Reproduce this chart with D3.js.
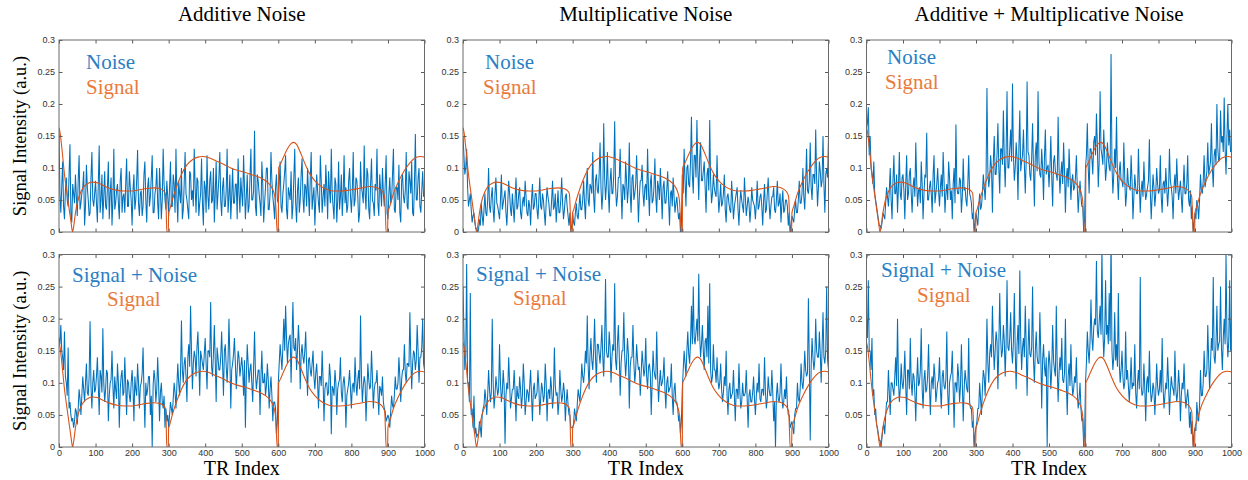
<!DOCTYPE html>
<html>
<head>
<meta charset="utf-8">
<script src="https://cdn.jsdelivr.net/npm/d3@7/dist/d3.min.js"></script>
<style>
  html, body { margin: 0; padding: 0; background: #fff; }
  svg { display: block; }
</style>
</head>
<body>
<script>
// ---- data ----------------------------------------------------------------
// Noisy traces are stored as two sample sets: "A" at TR 0,5,...,1000 and
// "B" half-way between them (TR 2.5, 7.5, ..., 997.5).

// Underlying (noise-free) fingerprint signal
const signalTR = [0,3,8,15,22,28,33,37,40,45,52,60,70,80,92,105,120,140,160,180,200,220,240,260,275,285,291,293,295,299,300,303,310,320,335,350,365,380,392,410,430,450,470,490,510,530,550,565,578,587,592,595,597,600,601,605,615,625,635,642,650,660,672,685,700,715,730,750,770,790,810,830,850,865,877,886,891,893,895,899,900,905,915,930,945,960,975,990,1000];
const signalValues = [0.163,0.155,0.13,0.09,0.06,0.035,0.015,0.0,0.008,0.03,0.05,0.063,0.072,0.076,0.078,0.077,0.073,0.068,0.065,0.064,0.064,0.066,0.068,0.069,0.068,0.065,0.06,0.04,0.0,0.0,0.03,0.035,0.05,0.068,0.09,0.105,0.113,0.117,0.118,0.116,0.111,0.106,0.1,0.096,0.093,0.089,0.085,0.08,0.073,0.063,0.05,0.02,0.0,0.0,0.1,0.105,0.118,0.13,0.138,0.14,0.137,0.125,0.108,0.092,0.08,0.072,0.067,0.064,0.064,0.065,0.067,0.069,0.071,0.07,0.067,0.062,0.055,0.03,0.0,0.0,0.03,0.04,0.06,0.08,0.096,0.108,0.116,0.118,0.117];

// Additive noise only
const additiveNoiseA = [
  0.155,0.03,0.11,0.02,0.085,0.04,0.137,0.015,0.06,0.09,0.025,0.12,0.045,0.07,0.01,0.105,0.05,0.03,0.125,0.04,
  0.08,0.015,0.135,0.05,0.02,0.095,0.035,0.11,0.06,0.01,0.13,0.045,0.075,0.02,0.1,0.055,0.03,0.115,0.04,0.07,
  0.01,0.09,0.05,0.128,0.025,0.065,0.04,0.11,0.015,0.085,0.055,0.12,0.03,0.07,0.045,0.1,0.02,0.13,0.05,0.08,
  0.025,0.11,0.04,0.075,0.13,0.015,0.06,0.1,0.035,0.125,0.05,0.02,0.09,0.065,0.13,0.03,0.08,0.045,0.115,0.01,
  0.07,0.12,0.035,0.095,0.05,0.015,0.11,0.06,0.125,0.025,0.085,0.04,0.13,0.055,0.02,0.1,0.045,0.075,0.115,0.03,
  0.06,0.12,0.02,0.09,0.04,0.13,0.05,0.158,0.025,0.08,0.045,0.11,0.015,0.07,0.1,0.035,0.125,0.055,0.02,0.09,
  0.045,0.11,0.03,0.075,0.12,0.02,0.06,0.095,0.04,0.13,0.015,0.085,0.05,0.115,0.03,0.07,0.1,0.025,0.125,0.055,
  0.01,0.09,0.045,0.12,0.03,0.075,0.105,0.02,0.065,0.13,0.04,0.085,0.015,0.11,0.055,0.025,0.12,0.07,0.04,0.1,
  0.03,0.125,0.05,0.08,0.015,0.11,0.06,0.135,0.035,0.09,0.02,0.115,0.045,0.075,0.13,0.025,0.065,0.1,0.04,0.12,
  0.02,0.085,0.05,0.13,0.03,0.07,0.105,0.015,0.09,0.045,0.125,0.035,0.08,0.11,0.025,0.153,0.05,0.1,0.03,0.095,
  0.06];
const additiveNoiseB = [
  0.06,0.07,0.04,0.065,0.05,0.09,0.03,0.075,0.045,0.055,0.08,0.035,0.06,0.095,0.04,0.07,0.025,0.085,0.05,0.06,
  0.045,0.075,0.03,0.09,0.055,0.04,0.07,0.02,0.085,0.05,0.035,0.065,0.045,0.08,0.03,0.06,0.075,0.04,0.095,0.05,
  0.065,0.035,0.08,0.045,0.06,0.025,0.09,0.05,0.07,0.04,0.085,0.03,0.06,0.1,0.02,0.065,0.05,0.075,0.035,0.055,
  0.07,0.04,0.09,0.03,0.055,0.08,0.045,0.02,0.075,0.06,0.035,0.095,0.05,0.04,0.07,0.085,0.025,0.06,0.045,0.08,
  0.03,0.055,0.08,0.045,0.1,0.06,0.035,0.085,0.05,0.07,0.04,0.065,0.03,0.09,0.055,0.045,0.075,0.02,0.06,0.085,
  0.04,0.07,0.055,0.03,0.085,0.05,0.065,0.04,0.09,0.06,0.025,0.075,0.045,0.1,0.035,0.06,0.08,0.04,0.07,0.05,
  0.075,0.04,0.06,0.095,0.035,0.07,0.05,0.02,0.085,0.045,0.065,0.03,0.09,0.055,0.075,0.04,0.06,0.085,0.035,0.07,
  0.05,0.065,0.03,0.08,0.055,0.04,0.07,0.095,0.045,0.06,0.02,0.075,0.05,0.035,0.09,0.06,0.045,0.03,0.08,0.055,
  0.065,0.04,0.085,0.055,0.03,0.07,0.045,0.06,0.1,0.035,0.075,0.05,0.025,0.065,0.045,0.09,0.04,0.06,0.075,0.03,
  0.06,0.045,0.09,0.035,0.07,0.05,0.03,0.08,0.055,0.065,0.04,0.095,0.06,0.03,0.075,0.05,0.085,0.04,0.065,0.055];

// Multiplicative noise only
const multiplicativeNoiseA = [
  0.15,0.09,0.13,0.04,0.06,0.015,0.03,0.005,0.0,0.02,0.045,0.01,0.06,0.025,0.1,0.03,0.07,0.015,0.085,0.04,
  0.02,0.09,0.045,0.065,0.01,0.08,0.035,0.06,0.015,0.085,0.04,0.07,0.02,0.055,0.08,0.03,0.05,0.01,0.075,0.04,
  0.06,0.02,0.085,0.035,0.05,0.01,0.07,0.045,0.025,0.08,0.04,0.015,0.065,0.03,0.085,0.02,0.055,0.04,0.01,0.0,
  0.03,0.01,0.045,0.02,0.06,0.035,0.08,0.02,0.1,0.04,0.07,0.125,0.03,0.09,0.06,0.14,0.035,0.17,0.05,0.125,
  0.03,0.1,0.06,0.173,0.04,0.085,0.13,0.02,0.07,0.11,0.045,0.14,0.03,0.09,0.06,0.12,0.015,0.08,0.105,0.04,
  0.075,0.13,0.025,0.09,0.05,0.115,0.03,0.07,0.1,0.02,0.08,0.045,0.095,0.01,0.065,0.085,0.03,0.055,0.02,0.0,
  0.09,0.13,0.04,0.105,0.07,0.18,0.06,0.12,0.175,0.05,0.14,0.08,0.11,0.03,0.1,0.175,0.045,0.09,0.06,0.12,
  0.03,0.075,0.045,0.09,0.015,0.06,0.035,0.08,0.02,0.05,0.07,0.01,0.065,0.04,0.085,0.025,0.055,0.015,0.07,0.045,
  0.02,0.08,0.04,0.06,0.01,0.075,0.035,0.085,0.02,0.055,0.07,0.03,0.08,0.045,0.015,0.065,0.035,0.05,0.01,0.0,
  0.025,0.015,0.05,0.03,0.08,0.045,0.1,0.035,0.13,0.06,0.14,0.05,0.09,0.16,0.04,0.11,0.07,0.15,0.03,0.1,
  0.15];
const multiplicativeNoiseB = [
  0.12,0.1,0.07,0.05,0.035,0.025,0.015,0.005,0.003,0.01,0.025,0.035,0.03,0.05,0.04,0.055,0.035,0.06,0.045,0.03,
  0.05,0.035,0.055,0.03,0.045,0.06,0.025,0.04,0.05,0.035,0.06,0.03,0.045,0.04,0.055,0.025,0.04,0.05,0.035,0.06,
  0.035,0.05,0.04,0.06,0.03,0.045,0.055,0.025,0.05,0.035,0.06,0.04,0.03,0.05,0.045,0.035,0.06,0.025,0.03,0.01,
  0.015,0.03,0.025,0.04,0.035,0.05,0.045,0.065,0.05,0.075,0.06,0.055,0.08,0.065,0.09,0.07,0.06,0.085,0.075,0.065,
  0.08,0.06,0.09,0.07,0.055,0.085,0.065,0.075,0.05,0.08,0.07,0.06,0.085,0.05,0.075,0.065,0.055,0.08,0.06,0.07,
  0.05,0.065,0.075,0.045,0.07,0.055,0.08,0.05,0.06,0.07,0.045,0.065,0.05,0.06,0.04,0.055,0.045,0.035,0.03,0.01,
  0.06,0.08,0.1,0.075,0.11,0.09,0.12,0.085,0.1,0.115,0.08,0.095,0.07,0.09,0.065,0.08,0.06,0.07,0.055,0.065,
  0.05,0.04,0.06,0.035,0.055,0.045,0.03,0.05,0.04,0.06,0.035,0.045,0.05,0.03,0.055,0.04,0.045,0.035,0.05,0.04,
  0.045,0.035,0.055,0.04,0.05,0.03,0.06,0.045,0.04,0.055,0.035,0.05,0.04,0.06,0.045,0.03,0.05,0.04,0.03,0.01,
  0.02,0.035,0.03,0.05,0.045,0.06,0.055,0.075,0.065,0.08,0.07,0.09,0.075,0.085,0.07,0.095,0.08,0.075,0.09,0.085];

// Additive + multiplicative noise
const combinedNoiseA = [
  0.16,0.195,0.15,0.09,0.11,0.05,0.03,0.01,0.005,0.03,0.02,0.07,0.04,0.1,0.02,0.12,0.06,0.03,0.125,0.05,
  0.09,0.02,0.12,0.06,0.1,0.03,0.085,0.14,0.04,0.07,0.11,0.02,0.09,0.155,0.05,0.08,0.03,0.12,0.06,0.1,
  0.04,0.09,0.125,0.03,0.075,0.11,0.05,0.02,0.1,0.168,0.06,0.085,0.03,0.115,0.07,0.04,0.12,0.055,0.02,0.0,
  0.03,0.01,0.06,0.04,0.09,0.05,0.225,0.07,0.12,0.03,0.15,0.09,0.17,0.06,0.13,0.19,0.07,0.22,0.1,0.16,
  0.232,0.08,0.14,0.05,0.19,0.11,0.16,0.06,0.235,0.12,0.08,0.17,0.04,0.14,0.22,0.09,0.13,0.05,0.16,0.1,
  0.07,0.15,0.04,0.12,0.09,0.18,0.06,0.11,0.14,0.03,0.1,0.13,0.05,0.09,0.07,0.12,0.03,0.08,0.04,0.0,
  0.1,0.17,0.06,0.13,0.09,0.15,0.185,0.07,0.22,0.12,0.16,0.08,0.14,0.1,0.278,0.06,0.13,0.18,0.05,0.11,
  0.08,0.14,0.04,0.1,0.07,0.12,0.02,0.09,0.06,0.13,0.03,0.08,0.11,0.05,0.07,0.145,0.02,0.09,0.04,0.1,
  0.06,0.12,0.03,0.08,0.1,0.04,0.13,0.07,0.02,0.09,0.115,0.05,0.08,0.03,0.105,0.06,0.12,0.04,0.02,0.0,
  0.03,0.05,0.02,0.09,0.06,0.12,0.08,0.14,0.1,0.17,0.07,0.13,0.2,0.11,0.19,0.15,0.21,0.09,0.2,0.16,
  0.13];
const combinedNoiseB = [
  0.17,0.12,0.1,0.075,0.06,0.04,0.02,0.01,0.015,0.025,0.045,0.055,0.065,0.05,0.08,0.06,0.09,0.07,0.06,0.085,
  0.065,0.075,0.05,0.09,0.06,0.07,0.055,0.08,0.065,0.045,0.075,0.06,0.085,0.05,0.07,0.06,0.09,0.045,0.075,0.065,
  0.07,0.055,0.08,0.06,0.05,0.085,0.065,0.075,0.045,0.07,0.06,0.08,0.055,0.065,0.05,0.075,0.06,0.045,0.03,0.015,
  0.02,0.04,0.035,0.06,0.07,0.08,0.095,0.085,0.1,0.11,0.09,0.12,0.1,0.13,0.105,0.115,0.125,0.1,0.13,0.11,
  0.12,0.1,0.115,0.13,0.095,0.12,0.105,0.11,0.125,0.09,0.115,0.1,0.12,0.095,0.11,0.085,0.1,0.115,0.09,0.105,
  0.1,0.085,0.11,0.095,0.08,0.1,0.09,0.075,0.095,0.085,0.07,0.09,0.08,0.065,0.085,0.07,0.06,0.055,0.04,0.02,
  0.12,0.1,0.13,0.115,0.14,0.12,0.135,0.11,0.13,0.105,0.12,0.1,0.115,0.095,0.105,0.09,0.1,0.085,0.095,0.08,
  0.07,0.085,0.06,0.075,0.065,0.08,0.055,0.07,0.06,0.075,0.065,0.055,0.07,0.06,0.08,0.065,0.055,0.07,0.06,0.075,
  0.065,0.055,0.075,0.06,0.07,0.065,0.08,0.055,0.07,0.06,0.075,0.065,0.055,0.07,0.06,0.075,0.05,0.065,0.04,0.015,
  0.02,0.04,0.05,0.065,0.08,0.07,0.095,0.09,0.11,0.1,0.12,0.105,0.13,0.115,0.14,0.125,0.13,0.15,0.135,0.125];

// Signal corrupted by additive noise
const signalPlusAdditiveA = [
  0.17,0.19,0.14,0.18,0.1,0.155,0.07,0.04,0.03,0.06,0.035,0.09,0.05,0.11,0.07,0.13,0.08,0.196,0.06,0.12,
  0.09,0.14,0.05,0.11,0.185,0.07,0.12,0.04,0.1,0.15,0.06,0.09,0.13,0.03,0.11,0.08,0.14,0.05,0.1,0.07,
  0.12,0.04,0.09,0.13,0.06,0.1,0.155,0.03,0.08,0.11,0.05,0.0,0.12,0.07,0.14,0.04,0.1,0.06,0.03,0.04,
  0.03,0.07,0.05,0.1,0.06,0.13,0.08,0.197,0.1,0.14,0.07,0.16,0.22,0.09,0.15,0.11,0.18,0.08,0.14,0.12,
  0.17,0.09,0.15,0.226,0.11,0.19,0.07,0.14,0.12,0.18,0.08,0.16,0.1,0.2,0.06,0.13,0.17,0.09,0.15,0.11,
  0.14,0.08,0.03,0.16,0.1,0.13,0.07,0.18,0.09,0.12,0.05,0.15,0.1,0.08,0.13,0.06,0.11,0.04,0.07,0.02,
  0.1,0.16,0.12,0.2,0.22,0.13,0.17,0.1,0.226,0.15,0.12,0.19,0.09,0.16,0.13,0.18,0.08,0.14,0.11,0.15,
  0.09,0.13,0.06,0.11,0.15,0.04,0.1,0.08,0.13,0.02,0.09,0.12,0.05,0.1,0.14,0.07,0.11,0.03,0.09,0.12,
  0.06,0.1,0.14,0.08,0.12,0.205,0.07,0.11,0.04,0.13,0.09,0.15,0.06,0.1,0.12,0.05,0.09,0.11,0.06,0.04,
  0.05,0.03,0.08,0.06,0.11,0.09,0.14,0.07,0.12,0.16,0.1,0.13,0.21,0.09,0.15,0.12,0.19,0.1,0.14,0.2,
  0.12];
const signalPlusAdditiveB = [
  0.16,0.15,0.12,0.11,0.08,0.06,0.05,0.045,0.04,0.055,0.06,0.075,0.08,0.09,0.1,0.085,0.11,0.095,0.1,0.085,
  0.11,0.095,0.12,0.085,0.1,0.09,0.115,0.08,0.105,0.095,0.11,0.075,0.1,0.09,0.12,0.085,0.095,0.105,0.08,0.1,
  0.09,0.11,0.08,0.1,0.095,0.115,0.085,0.1,0.09,0.11,0.08,0.095,0.105,0.09,0.1,0.085,0.07,0.08,0.06,0.05,
  0.05,0.06,0.075,0.085,0.095,0.1,0.115,0.12,0.13,0.11,0.14,0.125,0.15,0.13,0.14,0.155,0.135,0.15,0.13,0.145,
  0.13,0.15,0.14,0.125,0.145,0.135,0.155,0.12,0.14,0.13,0.15,0.125,0.135,0.14,0.12,0.145,0.13,0.12,0.14,0.125,
  0.12,0.135,0.11,0.13,0.12,0.1,0.125,0.115,0.105,0.12,0.11,0.1,0.115,0.095,0.105,0.09,0.08,0.07,0.06,0.04,
  0.13,0.14,0.155,0.15,0.17,0.16,0.175,0.165,0.155,0.17,0.15,0.16,0.145,0.14,0.15,0.125,0.135,0.12,0.13,0.11,
  0.115,0.1,0.11,0.095,0.105,0.09,0.1,0.085,0.11,0.095,0.08,0.1,0.09,0.105,0.085,0.1,0.09,0.08,0.1,0.09,
  0.095,0.085,0.1,0.105,0.09,0.11,0.095,0.1,0.085,0.105,0.095,0.11,0.09,0.1,0.085,0.095,0.08,0.07,0.055,0.045,
  0.045,0.055,0.065,0.08,0.09,0.1,0.11,0.105,0.12,0.115,0.13,0.125,0.14,0.13,0.145,0.135,0.15,0.14,0.155,0.13];

// Signal corrupted by multiplicative noise
const signalPlusMultiplicativeA = [
  0.25,0.12,0.285,0.1,0.24,0.06,0.08,0.03,0.02,0.04,0.015,0.06,0.09,0.05,0.12,0.07,0.2,0.06,0.11,0.08,
  0.16,0.07,0.12,0.005,0.1,0.14,0.06,0.09,0.12,0.04,0.08,0.11,0.06,0.13,0.05,0.09,0.07,0.12,0.04,0.1,
  0.08,0.12,0.05,0.1,0.07,0.13,0.04,0.09,0.11,0.06,0.155,0.08,0.05,0.12,0.07,0.1,0.04,0.09,0.05,0.03,
  0.03,0.06,0.04,0.09,0.07,0.13,0.1,0.15,0.205,0.09,0.17,0.12,0.2,0.1,0.16,0.13,0.19,0.11,0.262,0.14,
  0.18,0.1,0.16,0.255,0.12,0.19,0.08,0.15,0.21,0.11,0.17,0.06,0.14,0.19,0.1,0.16,0.12,0.08,0.15,0.11,
  0.17,0.09,0.13,0.05,0.15,0.11,0.18,0.07,0.12,0.1,0.14,0.06,0.11,0.09,0.13,0.05,0.1,0.07,0.04,0.02,
  0.09,0.15,0.11,0.18,0.13,0.22,0.25,0.16,0.2,0.27,0.14,0.19,0.12,0.17,0.22,0.255,0.1,0.16,0.12,0.14,
  0.09,0.13,0.07,0.11,0.15,0.05,0.1,0.08,0.12,0.04,0.09,0.13,0.06,0.1,0.08,0.12,0.03,0.09,0.07,0.11,
  0.05,0.1,0.13,0.07,0.09,0.14,0.06,0.11,0.08,0.12,0.04,0.0,0.1,0.07,0.13,0.06,0.09,0.11,0.05,0.03,
  0.04,0.02,0.06,0.1,0.07,0.13,0.09,0.15,0.11,0.232,0.01,0.17,0.12,0.2,0.14,0.18,0.1,0.21,0.13,0.25,
  0.12];
const signalPlusMultiplicativeB = [
  0.18,0.14,0.1,0.07,0.05,0.03,0.02,0.015,0.02,0.03,0.05,0.065,0.075,0.08,0.09,0.085,0.1,0.08,0.095,0.09,
  0.1,0.085,0.095,0.08,0.09,0.1,0.075,0.09,0.085,0.095,0.075,0.09,0.08,0.1,0.07,0.085,0.095,0.08,0.09,0.075,
  0.085,0.095,0.075,0.09,0.08,0.1,0.085,0.075,0.09,0.08,0.095,0.085,0.07,0.09,0.08,0.085,0.07,0.065,0.05,0.03,
  0.035,0.05,0.065,0.08,0.095,0.11,0.12,0.13,0.125,0.145,0.135,0.15,0.14,0.16,0.145,0.155,0.14,0.165,0.15,0.14,
  0.155,0.14,0.15,0.135,0.16,0.145,0.13,0.15,0.14,0.135,0.145,0.125,0.14,0.13,0.12,0.135,0.125,0.115,0.13,0.12,
  0.11,0.125,0.115,0.1,0.12,0.105,0.11,0.1,0.095,0.11,0.09,0.1,0.085,0.095,0.08,0.09,0.07,0.06,0.05,0.04,
  0.12,0.13,0.15,0.145,0.165,0.16,0.17,0.18,0.165,0.175,0.16,0.15,0.165,0.14,0.13,0.12,0.11,0.12,0.1,0.105,
  0.1,0.09,0.085,0.095,0.08,0.09,0.075,0.085,0.08,0.09,0.075,0.085,0.07,0.08,0.085,0.075,0.08,0.07,0.085,0.075,
  0.08,0.085,0.075,0.09,0.08,0.085,0.075,0.09,0.08,0.085,0.07,0.08,0.075,0.085,0.08,0.07,0.075,0.065,0.05,0.035,
  0.03,0.05,0.06,0.075,0.09,0.1,0.11,0.12,0.115,0.13,0.125,0.14,0.135,0.15,0.14,0.145,0.155,0.14,0.15,0.135];

// Signal corrupted by additive + multiplicative noise
const signalPlusCombinedA = [
  0.2,0.26,0.15,0.17,0.09,0.06,0.03,0.01,0.0,0.03,0.02,0.07,0.12,0.05,0.1,0.08,0.14,0.2,0.07,0.13,
  0.09,0.15,0.05,0.12,0.17,0.08,0.11,0.04,0.14,0.1,0.185,0.06,0.12,0.09,0.16,0.05,0.11,0.13,0.07,0.1,
  0.14,0.06,0.12,0.09,0.18,0.05,0.11,0.15,0.03,0.1,0.13,0.07,0.16,0.04,0.12,0.09,0.17,0.06,0.03,0.0,
  0.03,0.06,0.1,0.05,0.12,0.08,0.2,0.1,0.16,0.22,0.12,0.18,0.09,0.24,0.14,0.19,0.11,0.26,0.15,0.21,
  0.13,0.24,0.09,0.19,0.275,0.12,0.17,0.22,0.08,0.2,0.14,0.25,0.1,0.18,0.13,0.21,0.06,0.16,0.11,0.0,
  0.15,0.09,0.19,0.12,0.22,0.07,0.14,0.17,0.1,0.2,0.05,0.13,0.16,0.08,0.11,0.14,0.06,0.1,0.04,0.0,
  0.1,0.18,0.13,0.23,0.15,0.2,0.29,0.17,0.22,0.31,0.14,0.26,0.19,0.24,0.33,0.12,0.21,0.16,0.24,0.1,
  0.15,0.09,0.18,0.12,0.07,0.14,0.1,0.16,0.06,0.12,0.265,0.08,0.13,0.04,0.11,0.15,0.07,0.1,0.05,0.13,
  0.08,0.12,0.17,0.06,0.1,0.14,0.05,0.11,0.09,0.15,0.07,0.12,0.04,0.1,0.13,0.06,0.09,0.03,0.02,0.0,
  0.03,0.07,0.04,0.12,0.08,0.15,0.11,0.19,0.09,0.17,0.265,0.13,0.22,0.16,0.25,0.12,0.2,0.3,0.14,0.26,
  0.2];
const signalPlusCombinedB = [
  0.17,0.15,0.12,0.08,0.05,0.035,0.02,0.01,0.015,0.035,0.05,0.07,0.085,0.1,0.09,0.11,0.095,0.105,0.09,0.1,
  0.11,0.095,0.12,0.09,0.1,0.115,0.085,0.1,0.095,0.12,0.09,0.105,0.085,0.11,0.095,0.1,0.09,0.11,0.085,0.105,
  0.09,0.11,0.095,0.105,0.085,0.1,0.115,0.09,0.1,0.085,0.11,0.095,0.1,0.09,0.105,0.085,0.07,0.06,0.04,0.02,
  0.04,0.06,0.075,0.09,0.11,0.12,0.13,0.145,0.14,0.16,0.15,0.165,0.155,0.17,0.15,0.165,0.16,0.155,0.17,0.15,
  0.165,0.15,0.16,0.145,0.17,0.155,0.14,0.16,0.15,0.145,0.155,0.135,0.15,0.14,0.13,0.145,0.135,0.125,0.14,0.12,
  0.13,0.12,0.135,0.11,0.125,0.115,0.12,0.105,0.115,0.1,0.11,0.095,0.105,0.09,0.1,0.085,0.075,0.06,0.045,0.02,
  0.13,0.15,0.165,0.17,0.185,0.19,0.18,0.195,0.175,0.185,0.17,0.175,0.16,0.165,0.15,0.14,0.135,0.125,0.13,0.12,
  0.11,0.1,0.105,0.095,0.1,0.09,0.095,0.085,0.1,0.09,0.095,0.085,0.09,0.1,0.085,0.095,0.08,0.09,0.085,0.095,
  0.09,0.085,0.095,0.08,0.09,0.1,0.085,0.095,0.08,0.09,0.085,0.095,0.08,0.09,0.085,0.075,0.07,0.055,0.04,0.02,
  0.025,0.05,0.065,0.08,0.1,0.11,0.12,0.135,0.13,0.15,0.14,0.16,0.15,0.165,0.155,0.17,0.16,0.175,0.165,0.15];

const columnTitles = ["Additive Noise", "Multiplicative Noise", "Additive + Multiplicative Noise"];
const noiseLabels = ["Noise", "Signal + Noise"];
const signalLabel = "Signal";
const xTicks = [0,100,200,300,400,500,600,700,800,900,1000];
const yTicks = [0,0.05,0.1,0.15,0.2,0.25,0.3];
const yAxisTitle = "Signal Intensity (a.u.)";
const xAxisTitle = "TR Index";

// merge the two sample sets into one trace ordered by TR
const sampleTR = d3.range(0, 1000.1, 2.5);
const interleave = (a, b) => a.flatMap((v, i) => i < b.length ? [v, b[i]] : [v]);

// ---- layout --------------------------------------------------------------
const W = 1248, H = 480;
const colX = [[59, 424.5], [463, 828.5], [866.5, 1231.5]];
const rowY = [[40, 232], [254.5, 447]];
const BLUE = "#0072BD", ORANGE = "#D95319";
const LEGEND_BLUE = "#2a7fc4", LEGEND_ORANGE = "#ea7a3c";
const serif = "'Liberation Serif', 'Times New Roman', serif";
const sans = "'Liberation Sans', Helvetica, Arial, sans-serif";

// legend anchor offsets per panel [noiseDx, noiseBaseline, signalDx, signalBaseline]
const legendPos = [
  [[27, 29, 27, 54], [22, 29, 20, 54], [20.5, 24, 18.5, 49]],
  [[13, 27.5, 48, 51.5], [13, 26, 50, 50.5], [14.5, 22.5, 50.5, 47.5]]
];

const panels = [
  { row: 0, col: 0, noise: interleave(additiveNoiseA, additiveNoiseB) },
  { row: 0, col: 1, noise: interleave(multiplicativeNoiseA, multiplicativeNoiseB) },
  { row: 0, col: 2, noise: interleave(combinedNoiseA, combinedNoiseB) },
  { row: 1, col: 0, noise: interleave(signalPlusAdditiveA, signalPlusAdditiveB) },
  { row: 1, col: 1, noise: interleave(signalPlusMultiplicativeA, signalPlusMultiplicativeB) },
  { row: 1, col: 2, noise: interleave(signalPlusCombinedA, signalPlusCombinedB) }
];

const svg = d3.select("body").append("svg")
  .attr("width", W).attr("height", H)
  .attr("viewBox", `0 0 ${W} ${H}`);

const signalData = signalTR.map((t, i) => [t, signalValues[i]]);

panels.forEach((p, idx) => {
  const [x0, x1] = colX[p.col];
  const [y0, y1] = rowY[p.row];
  const x = d3.scaleLinear().domain([0, 1000]).range([x0, x1]);
  const y = d3.scaleLinear().domain([0, 0.3]).range([y1, y0]);

  const g = svg.append("g");
  const clipId = "clip" + idx;
  svg.append("clipPath").attr("id", clipId)
    .append("rect").attr("x", x0).attr("y", y0).attr("width", x1 - x0).attr("height", y1 - y0);

  const plot = g.append("g").attr("clip-path", `url(#${clipId})`);

  // noisy trace
  const noiseLine = d3.line().x((d, i) => x(sampleTR[i])).y(d => y(d));
  plot.append("path")
    .attr("d", noiseLine(p.noise))
    .attr("fill", "none")
    .attr("stroke", BLUE)
    .attr("stroke-width", 1.05)
    .attr("stroke-linejoin", "bevel");

  // clean signal
  const sigLine = d3.line().x(d => x(d[0])).y(d => y(d[1])).curve(d3.curveMonotoneX);
  plot.append("path")
    .attr("d", sigLine(signalData))
    .attr("fill", "none")
    .attr("stroke", ORANGE)
    .attr("stroke-width", 1.1);

  // axes: inward ticks on all four sides
  const tickColor = "#5a5a5a";
  const styleAxis = sel => {
    sel.select(".domain").remove();
    sel.selectAll(".tick line").attr("stroke", tickColor).attr("stroke-width", 1);
    sel.selectAll(".tick text").attr("fill", "#333").attr("font-family", sans).attr("font-size", 9);
  };
  const fmt = d3.format("~g");

  g.append("g").attr("transform", `translate(0,${y1})`)
    .call(d3.axisBottom(x).tickValues(xTicks).tickSize(-3.5).tickSizeOuter(0).tickPadding(3)
      .tickFormat(p.row === 1 ? fmt : () => ""))
    .call(styleAxis);
  g.append("g").attr("transform", `translate(0,${y0})`)
    .call(d3.axisTop(x).tickValues(xTicks).tickSize(-3.5).tickSizeOuter(0).tickFormat(() => ""))
    .call(styleAxis);
  g.append("g").attr("transform", `translate(${x0},0)`)
    .call(d3.axisLeft(y).tickValues(yTicks).tickSize(-3.5).tickSizeOuter(0).tickPadding(4).tickFormat(fmt))
    .call(styleAxis);
  g.append("g").attr("transform", `translate(${x1},0)`)
    .call(d3.axisRight(y).tickValues(yTicks).tickSize(-3.5).tickSizeOuter(0).tickFormat(() => ""))
    .call(styleAxis);

  // frame
  g.append("rect")
    .attr("x", x0).attr("y", y0).attr("width", x1 - x0).attr("height", y1 - y0)
    .attr("fill", "none").attr("stroke", "#6a6a6a").attr("stroke-width", 1);

  // legend text
  const lp = legendPos[p.row][p.col];
  g.append("text")
    .attr("x", x0 + lp[0]).attr("y", y0 + lp[1])
    .attr("font-family", serif).attr("font-size", 21)
    .attr("fill", LEGEND_BLUE)
    .text(noiseLabels[p.row]);
  g.append("text")
    .attr("x", x0 + lp[2]).attr("y", y0 + lp[3])
    .attr("font-family", serif).attr("font-size", 21)
    .attr("fill", LEGEND_ORANGE)
    .text(signalLabel);

  // column titles
  if (p.row === 0) {
    svg.append("text")
      .attr("x", (x0 + x1) / 2).attr("y", 21)
      .attr("text-anchor", "middle")
      .attr("font-family", serif).attr("font-size", 21)
      .attr("fill", "#000")
      .text(columnTitles[p.col]);
  }
  // x-axis title under bottom row
  if (p.row === 1) {
    svg.append("text")
      .attr("x", (x0 + x1) / 2).attr("y", 475)
      .attr("text-anchor", "middle")
      .attr("font-family", serif).attr("font-size", 20)
      .attr("fill", "#000")
      .text(xAxisTitle);
  }
  // y-axis title on the first column
  if (p.col === 0) {
    svg.append("text")
      .attr("transform", `translate(25.5,${(y0 + y1) / 2}) rotate(-90)`)
      .attr("text-anchor", "middle")
      .attr("font-family", serif).attr("font-size", 18.5)
      .attr("fill", "#000")
      .text(yAxisTitle);
  }
});
</script>
</body>
</html>
